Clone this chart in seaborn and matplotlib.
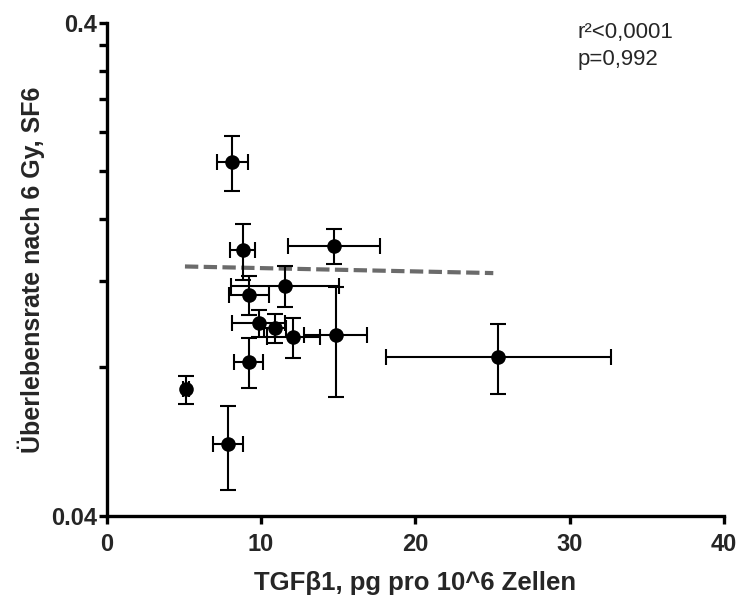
import numpy as np
import pandas as pd
import matplotlib
matplotlib.use("Agg")
import matplotlib.pyplot as plt
from matplotlib.ticker import FixedLocator, NullFormatter, FixedFormatter
import seaborn as sns

# --- data ---
tgf = [8.14, 8.81, 14.73, 11.57, 9.24, 9.84, 10.89, 12.09, 14.83, 9.19, 5.14, 7.86, 25.38]
tgf_err = [0.99, 0.81, 3.00, 3.49, 1.30, 1.70, 0.70, 1.73, 2.02, 0.92, 0.20, 0.97, 7.31]
sf6 = [0.2087, 0.1386, 0.1412, 0.1173, 0.1124, 0.0985, 0.0962, 0.0922, 0.0932, 0.0822, 0.0723, 0.0559, 0.0842]
sf6_err = [0.0267, 0.0180, 0.0118, 0.0110, 0.0102, 0.0061, 0.0065, 0.0085, 0.0235, 0.0095, 0.0047, 0.0108, 0.0136]
reg_x = [5.07, 25.05]
reg_y = [0.1282, 0.1243]
x_ticks = [0, 10, 20, 30, 40]
y_major = [0.04, 0.4]
y_major_labels = ["0.04", "0.4"]
y_minor = [0.08, 0.12, 0.16, 0.20, 0.24, 0.28, 0.32, 0.36]

df = pd.DataFrame({"tgf": tgf, "sf6": sf6})
reg = pd.DataFrame({"x": reg_x, "y": reg_y})

sns.set_style("ticks")
plt.rcParams["font.family"] = ["Liberation Sans", "DejaVu Sans"]

fig = plt.figure(figsize=(7.39, 5.99), dpi=100)
ax = fig.add_axes([0.1444, 0.1386, 0.9797 - 0.1444, 0.9621 - 0.1386])

ax.set_yscale("log")
ax.set_xlim(0, 40)
ax.set_ylim(0.04, 0.4)

sns.lineplot(data=reg, x="x", y="y", ax=ax, color="#6b6b6b", lw=3,
             linestyle=(0, (3.2, 1.3)), zorder=2)
ax.errorbar(tgf, sf6, xerr=tgf_err, yerr=sf6_err, fmt="none", ecolor="black",
            elinewidth=1.5, capsize=5.5, capthick=1.5, zorder=3)
sns.scatterplot(data=df, x="tgf", y="sf6", ax=ax, color="black", s=110,
                edgecolor="black", linewidth=0, zorder=4)

ax.xaxis.set_major_locator(FixedLocator(x_ticks))
ax.yaxis.set_major_locator(FixedLocator(y_major))
ax.yaxis.set_major_formatter(FixedFormatter(y_major_labels))
ax.yaxis.set_minor_locator(FixedLocator(y_minor))
ax.yaxis.set_minor_formatter(NullFormatter())

for s in ["top", "right"]:
    ax.spines[s].set_visible(False)
for s in ["left", "bottom"]:
    ax.spines[s].set_linewidth(2.4)
    ax.spines[s].set_color("black")

ax.tick_params(axis="x", which="major", length=6, width=2.4, direction="out",
               labelsize=17, pad=6, color="black")
ax.tick_params(axis="y", which="major", length=6, width=2.4, direction="out",
               labelsize=17, pad=1, color="black")
ax.tick_params(axis="y", which="minor", length=6, width=2.4, direction="out", color="black")
for lab in ax.get_xticklabels() + ax.get_yticklabels():
    lab.set_fontweight("bold")

ax.set_xlabel("TGFβ1, pg pro 10^6 Zellen", fontsize=18.5, fontweight="bold", labelpad=11)
ax.set_ylabel("Überlebensrate nach 6 Gy, SF6", fontsize=18, fontweight="bold")
ax.yaxis.set_label_coords(-0.100, 0.5)

ax.text(0.762, 0.9696, "r²<0,0001", transform=ax.transAxes, fontsize=16, va="baseline", ha="left")
ax.text(0.762, 0.9150, "p=0,992", transform=ax.transAxes, fontsize=16, va="baseline", ha="left")

fig.savefig("out.png", dpi=100)
